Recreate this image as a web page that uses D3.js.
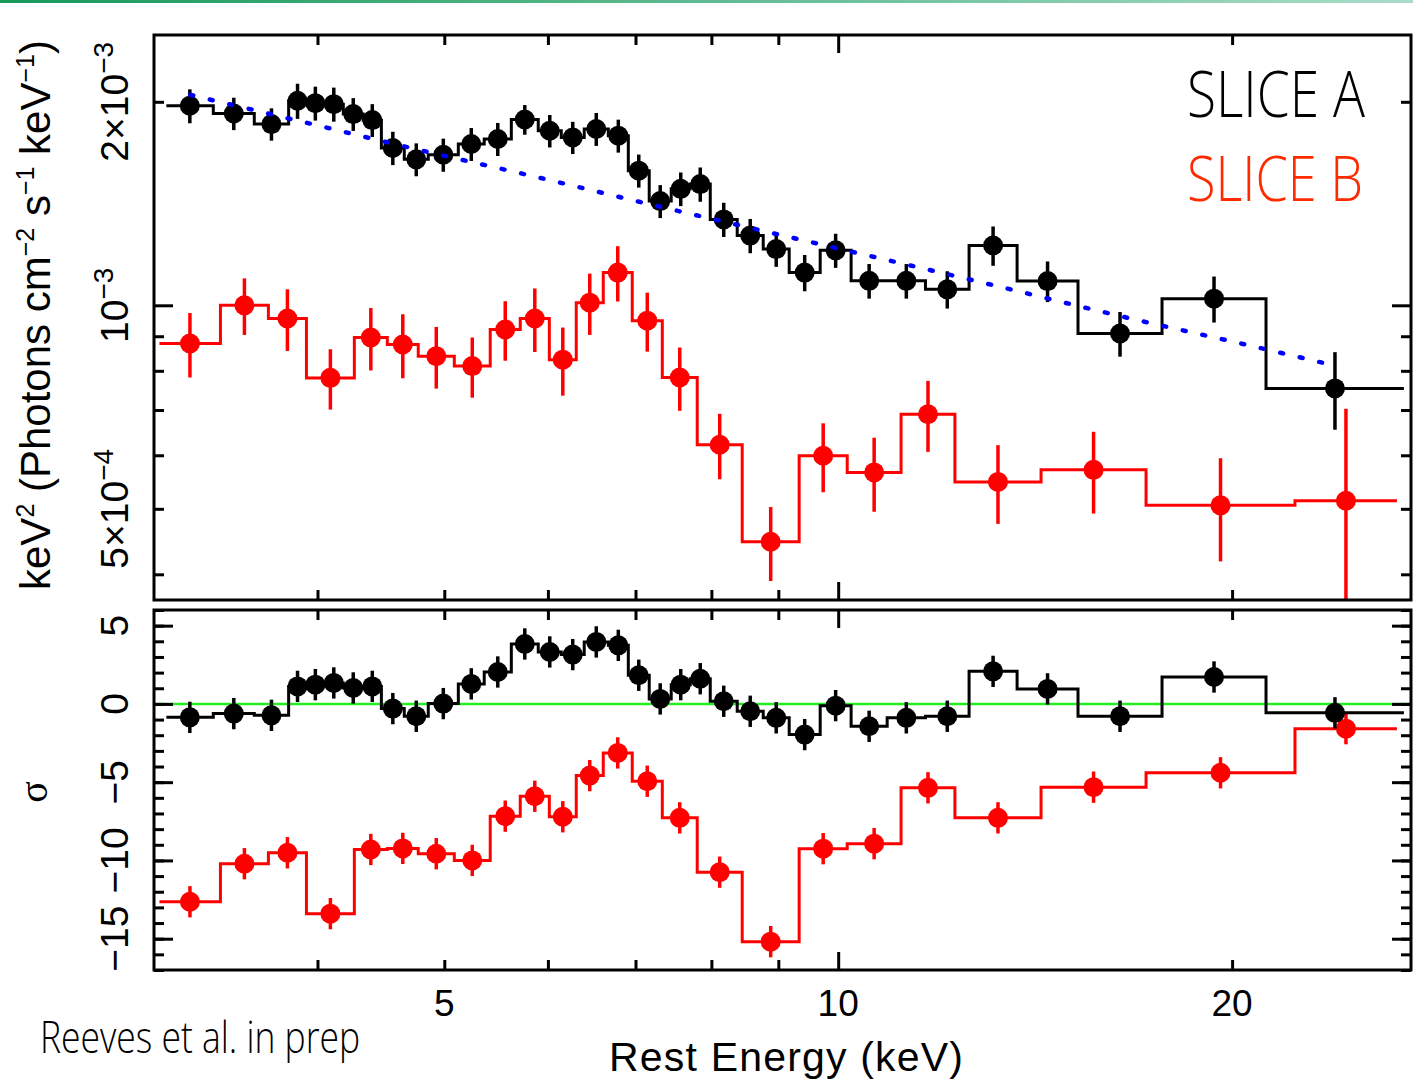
<!DOCTYPE html>
<html>
<head>
<meta charset="utf-8">
<script src="https://cdn.jsdelivr.net/npm/d3@7"></script>
<style>
  body { margin: 0; background: #fff; }
</style>
</head>
<body>
<div id="chart"></div>
<script>
// slice A: bin edges (keV), keV^2 flux (x1e-3), 1 sigma error (x1e-3), residuals (sigma)
var edgesA = [3.066, 3.330, 3.579, 3.802, 3.923, 4.048, 4.186, 4.335, 4.476, 4.660, 4.861, 5.125,
              5.364, 5.626, 5.899, 6.143, 6.396, 6.673, 6.912, 7.171, 7.454, 7.708, 7.984, 8.372,
              8.764, 9.174, 9.688, 10.23, 10.90, 11.66, 12.59, 13.70, 15.25, 17.68, 21.23, 27.06];
var fluxA = [1.973, 1.922, 1.854, 2.007, 1.991, 1.984, 1.918, 1.879, 1.709, 1.644, 1.670, 1.732,
             1.762, 1.883, 1.812, 1.771, 1.823, 1.782, 1.582, 1.426, 1.487, 1.511, 1.340, 1.268,
             1.211, 1.118, 1.206, 1.087, 1.087, 1.056, 1.226, 1.086, 0.9085, 1.023, 0.7535];
var errA = [0.114, 0.106, 0.102, 0.120, 0.115, 0.115, 0.107, 0.105, 0.097, 0.092, 0.094, 0.097,
            0.099, 0.095, 0.100, 0.097, 0.102, 0.100, 0.089, 0.080, 0.085, 0.088, 0.078, 0.074,
            0.071, 0.069, 0.070, 0.064, 0.064, 0.067, 0.082, 0.075, 0.069, 0.080, 0.099];
var residA = [-0.86, -0.62, -0.73, 1.12, 1.23, 1.34, 1.02, 1.12, -0.30, -0.79, 0.02, 1.28,
              2.04, 3.83, 3.32, 3.15, 3.96, 3.74, 1.83, 0.32, 1.23, 1.61, 0.17, -0.47,
              -0.89, -1.96, -0.11, -1.43, -0.89, -0.79, 2.08, 0.96, -0.79, 1.72, -0.57];

// slice B
var edgesB = [3.029, 3.372, 3.669, 3.923, 4.268, 4.523, 4.776, 5.089, 5.421, 5.715, 6.015, 6.307,
              6.614, 6.960, 7.338, 7.803, 8.446, 9.336, 10.16, 11.17, 12.28, 14.29, 17.19, 22.34, 26.73];
var fluxB = [0.878, 1.000, 0.956, 0.781, 0.896, 0.875, 0.841, 0.813, 0.921, 0.956, 0.831, 1.009,
             1.118, 0.949, 0.782, 0.622, 0.447, 0.599, 0.566, 0.690, 0.548, 0.571, 0.506, 0.514];
var errB = [0.096, 0.096, 0.100, 0.080, 0.095, 0.095, 0.088, 0.083, 0.093, 0.103, 0.096, 0.105,
            0.105, 0.095, 0.084, 0.069, 0.056, 0.070, 0.071, 0.083, 0.073, 0.079, 0.088, 0.189];
var residB = [-12.64, -10.21, -9.51, -13.40, -9.30, -9.23, -9.57, -10.00, -7.17, -5.90, -7.21, -4.58,
              -3.13, -4.94, -7.28, -10.75, -15.19, -9.25, -8.93, -5.36, -7.28, -5.32, -4.40, -1.58];

// continuum model for slice A (dotted blue)
var modelE = [3.198, 3.840, 4.751, 5.889, 7.034, 9.705, 12.93, 16.54, 20.57, 23.72];
var modelA = [2.048, 1.881, 1.703, 1.547, 1.424, 1.230, 1.079, 0.961, 0.873, 0.818];

// ticks
var xMinor = [4, 5, 6, 7, 8, 9, 20];
var xMajor = [10];
var xLabels = [5, 10, 20];
var yTopMinor = [0.4, 0.5, 0.6, 0.7, 0.8, 0.9, 2];
var yTopMajor = [1];
var yTopLabels = [{v: 2, base: "2×10", exp: "−3"}, {v: 1, base: "10", exp: "−3"}, {v: 0.5, base: "5×10", exp: "−4"}];
var yBotMinor = d3.range(-17, 7);
var yBotMajor = [-15, -10, -5, 0, 5];

var width = 1413, height = 1080;
var left = 154, right = 1411;

var svg = d3.select("#chart").append("svg")
    .attr("width", width)
    .attr("height", height)
    .style("font-family", "'Liberation Sans', Arial, Helvetica, sans-serif");

// green strip at the very top
var defs = svg.append("defs");
var grad = defs.append("linearGradient").attr("id", "strip");
grad.append("stop").attr("offset", "0%").attr("stop-color", "#17995a");
grad.append("stop").attr("offset", "100%").attr("stop-color", "#a9dcc8");
svg.append("rect").attr("x", 0).attr("y", 0).attr("width", width).attr("height", 3).attr("fill", "url(#strip)");

var x = d3.scaleLog().domain([3.0, 27.4]).range([left, right]);
var yTop = d3.scaleLog().domain([0.3665, 2.511]).range([600, 35]);
var yBot = d3.scaleLinear().domain([-17, 6]).range([970, 610]);

defs.append("clipPath").attr("id", "clipTop").append("rect")
    .attr("x", left).attr("y", 35).attr("width", right - left).attr("height", 565);
defs.append("clipPath").attr("id", "clipBot").append("rect")
    .attr("x", left).attr("y", 610).attr("width", right - left).attr("height", 360);

function makeBins(edges, vals, errs) {
  return vals.map(function(v, i) {
    return {lo: edges[i], hi: edges[i + 1], c: Math.sqrt(edges[i] * edges[i + 1]), v: v, e: errs ? errs[i] : 1};
  });
}

function drawSeries(g, bins, y, color, isLog) {
  var pts = [];
  bins.forEach(function(b) { pts.push([b.lo, b.v]); pts.push([b.hi, b.v]); });
  g.append("path")
      .datum(pts)
      .attr("fill", "none")
      .attr("stroke", color)
      .attr("stroke-width", 3)
      .attr("d", d3.line().x(function(d) { return x(d[0]); }).y(function(d) { return y(d[1]); }));
  g.selectAll(null)
    .data(bins)
    .enter()
    .append("line")
      .attr("x1", function(d) { return x(d.c); })
      .attr("x2", function(d) { return x(d.c); })
      .attr("y1", function(d) { return y(isLog ? Math.max(d.v - d.e, 0.01) : d.v - d.e); })
      .attr("y2", function(d) { return y(d.v + d.e); })
      .attr("stroke", color)
      .attr("stroke-width", 3.5);
  g.selectAll(null)
    .data(bins)
    .enter()
    .append("circle")
      .attr("cx", function(d) { return x(d.c); })
      .attr("cy", function(d) { return y(d.v); })
      .attr("r", 10)
      .attr("fill", color);
}

// top panel
var gTop = svg.append("g").attr("clip-path", "url(#clipTop)");
drawSeries(gTop, makeBins(edgesB, fluxB, errB), yTop, "#ff0000", true);
drawSeries(gTop, makeBins(edgesA, fluxA, errA), yTop, "#000000", true);
gTop.append("path")
    .datum(modelE.map(function(e, i) { return [e, modelA[i]]; }))
    .attr("fill", "none")
    .attr("stroke", "#0000ff")
    .attr("stroke-width", 4.5)
    .attr("stroke-linecap", "round")
    .attr("stroke-dasharray", "3 17")
    .attr("d", d3.line().curve(d3.curveMonotoneX)
      .x(function(d) { return x(d[0]); }).y(function(d) { return yTop(d[1]); }));

// residual panel
var gBot = svg.append("g").attr("clip-path", "url(#clipBot)");
gBot.append("line")
    .attr("x1", left).attr("x2", right)
    .attr("y1", yBot(0)).attr("y2", yBot(0))
    .attr("stroke", "#22ee22").attr("stroke-width", 2.5);
drawSeries(gBot, makeBins(edgesB, residB), yBot, "#ff0000", false);
drawSeries(gBot, makeBins(edgesA, residA), yBot, "#000000", false);

// ticks on all four sides of both panels
function ticks(axisFn, scale, vals, size, transform) {
  var g = svg.append("g")
      .attr("transform", transform)
      .call(axisFn(scale).tickValues(vals).tickSize(size).tickFormat(""));
  g.select(".domain").remove();
  g.selectAll("line").attr("stroke-width", 3);
}
[[35, 600, yTop, yTopMinor, yTopMajor], [610, 970, yBot, yBotMinor, yBotMajor]].forEach(function(p) {
  ticks(d3.axisBottom, x, xMinor, -10, "translate(0," + p[1] + ")");
  ticks(d3.axisBottom, x, xMajor, -18, "translate(0," + p[1] + ")");
  ticks(d3.axisTop, x, xMinor, -10, "translate(0," + p[0] + ")");
  ticks(d3.axisTop, x, xMajor, -18, "translate(0," + p[0] + ")");
  ticks(d3.axisLeft, p[2], p[3], -10, "translate(" + left + ",0)");
  ticks(d3.axisLeft, p[2], p[4], -19, "translate(" + left + ",0)");
  ticks(d3.axisRight, p[2], p[3], -10, "translate(" + right + ",0)");
  ticks(d3.axisRight, p[2], p[4], -19, "translate(" + right + ",0)");
  svg.append("rect")
      .attr("x", left).attr("y", p[0])
      .attr("width", right - left).attr("height", p[1] - p[0])
      .attr("fill", "none").attr("stroke", "#000").attr("stroke-width", 3);
});

// tick labels
svg.selectAll(null)
  .data(xLabels)
  .enter()
  .append("text")
    .attr("x", function(d) { return x(d); })
    .attr("y", 1016)
    .attr("text-anchor", "middle")
    .attr("font-size", 37)
    .text(function(d) { return d; });

var tl = svg.selectAll(null)
  .data(yTopLabels)
  .enter()
  .append("text")
    .attr("transform", function(d) { return "translate(128," + yTop(d.v) + ") rotate(-90)"; })
    .attr("text-anchor", "middle")
    .attr("font-size", 39);
tl.append("tspan").text(function(d) { return d.base; });
tl.append("tspan").attr("dy", -15).attr("font-size", 28).text(function(d) { return d.exp; });

svg.selectAll(null)
  .data(yBotMajor)
  .enter()
  .append("text")
    .attr("transform", function(d) { return "translate(128," + yBot(d) + ") rotate(-90)"; })
    .attr("text-anchor", "middle")
    .attr("font-size", 39)
    .text(function(d) { return d < 0 ? "−" + (-d) : d; });

// axis titles
svg.append("text")
    .attr("x", 786).attr("y", 1071)
    .attr("text-anchor", "middle")
    .attr("font-size", 41)
    .attr("textLength", 354)
    .text("Rest Energy (keV)");

var yt = svg.append("text")
    .attr("transform", "translate(50,315) rotate(-90)")
    .attr("text-anchor", "middle")
    .attr("font-size", 42);
yt.append("tspan").text("keV");
yt.append("tspan").attr("dy", -16).attr("font-size", 25).text("2");
yt.append("tspan").attr("dy", 16).text(" (Photons cm");
yt.append("tspan").attr("dy", -16).attr("font-size", 25).text("−2");
yt.append("tspan").attr("dy", 16).text(" s");
yt.append("tspan").attr("dy", -16).attr("font-size", 25).text("−1");
yt.append("tspan").attr("dy", 16).text(" keV");
yt.append("tspan").attr("dy", -16).attr("font-size", 25).text("−1");
yt.append("tspan").attr("dy", 16).text(")");

svg.append("text")
    .attr("transform", "translate(47,792) rotate(-90)")
    .attr("text-anchor", "middle")
    .attr("font-size", 40)
    .attr("font-family", "'Liberation Serif', serif")
    .text("σ");

// hand written notes
var hand = "'Open Sans', 'DejaVu Sans', sans-serif";
svg.append("text")
    .attr("x", 1187).attr("y", 117)
    .attr("font-family", hand).attr("font-weight", 300)
    .attr("font-size", 64)
    .attr("textLength", 178).attr("lengthAdjust", "spacingAndGlyphs")
    .attr("fill", "#000")
    .text("SLICE A");
svg.append("text")
    .attr("x", 1187).attr("y", 201)
    .attr("font-family", hand).attr("font-weight", 300)
    .attr("font-size", 62)
    .attr("textLength", 176).attr("lengthAdjust", "spacingAndGlyphs")
    .attr("fill", "#ff2a00")
    .text("SLICE B");
svg.append("text")
    .attr("x", 40).attr("y", 1053)
    .attr("font-family", hand).attr("font-weight", 300)
    .attr("font-size", 44)
    .attr("textLength", 320).attr("lengthAdjust", "spacingAndGlyphs")
    .attr("fill", "#000")
    .text("Reeves et al. in prep");
</script>
</body>
</html>
